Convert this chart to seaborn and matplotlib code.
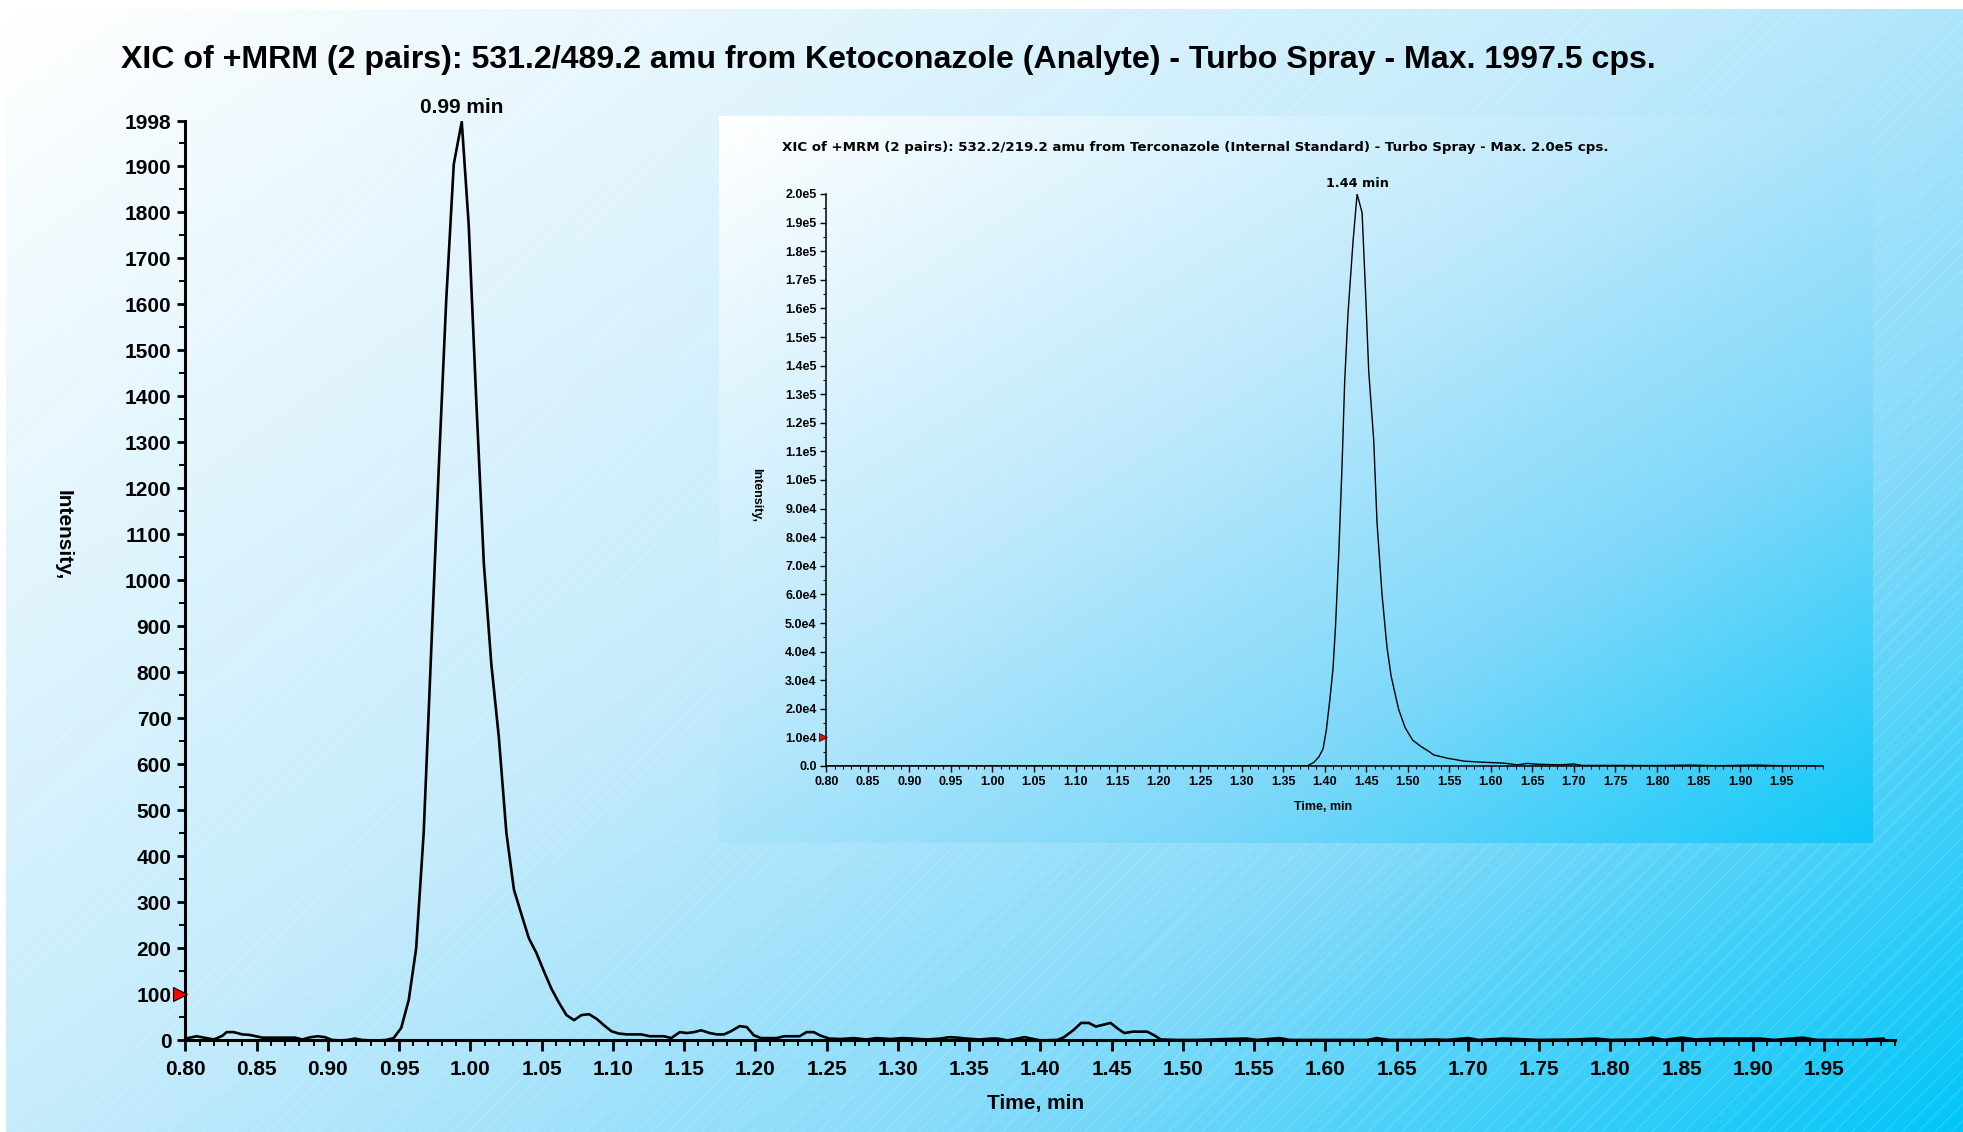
import numpy as np
import pandas as pd
import matplotlib
matplotlib.use("Agg")
import matplotlib.pyplot as plt
import seaborn as sns
from matplotlib.colors import LinearSegmentedColormap
from matplotlib.ticker import MultipleLocator, FixedLocator, FixedFormatter
from matplotlib.patches import Rectangle

# ---------------- data ----------------
keto_time = [0.800, 0.808, 0.813, 0.820, 0.826, 0.829, 0.834, 0.840, 0.845, 0.854,
             0.866, 0.877, 0.882, 0.888, 0.893, 0.898, 0.903, 0.909, 0.914, 0.919,
             0.924, 0.930, 0.936, 0.941, 0.9462, 0.9515, 0.9568, 0.9620, 0.9673, 0.9726,
             0.9778, 0.9831, 0.9884, 0.9940, 0.9989, 1.0042, 1.0095, 1.0147, 1.0200, 1.0253,
             1.0306, 1.0358, 1.0411, 1.0464, 1.0517, 1.0570, 1.0622, 1.0675, 1.0728, 1.0780,
             1.0833, 1.0886, 1.0938, 1.0990, 1.104, 1.110, 1.115, 1.120, 1.126, 1.131,
             1.136, 1.141, 1.147, 1.152, 1.157, 1.162, 1.168, 1.173, 1.178, 1.183,
             1.189, 1.194, 1.199, 1.204, 1.210, 1.215, 1.220, 1.225, 1.231, 1.236,
             1.241, 1.246, 1.252, 1.260, 1.269, 1.278, 1.285, 1.295, 1.303, 1.310,
             1.320, 1.330, 1.336, 1.342, 1.348, 1.357, 1.366, 1.370, 1.377, 1.389,
             1.400, 1.412, 1.4166, 1.4235, 1.4286, 1.434, 1.439, 1.444, 1.4493, 1.4546,
             1.459, 1.465, 1.475, 1.480, 1.4845, 1.495, 1.510, 1.530, 1.545, 1.552,
             1.568, 1.575, 1.600, 1.630, 1.636, 1.645, 1.665, 1.677, 1.685, 1.700,
             1.708, 1.725, 1.735, 1.750, 1.775, 1.790, 1.800, 1.820, 1.830, 1.838,
             1.850, 1.860, 1.875, 1.890, 1.905, 1.915, 1.935, 1.945, 1.975, 1.992]
keto_intensity = [4, 9, 6, 2, 10, 18, 18, 13, 12, 6,
                  6, 6, 2, 7, 9, 7, 1, 0, 1, 4,
                  1, 0, 0, 1, 5, 27, 88, 200, 452, 847,
                  1240, 1609, 1905, 1997.5, 1772, 1390, 1037, 820, 660, 452,
                  328, 275, 222, 190, 150, 112, 82, 55, 44, 55,
                  57, 47, 33, 20, 15, 13, 13, 13, 9, 9,
                  9, 5, 18, 16, 18, 22, 16, 13, 13, 20,
                  31, 29, 11, 5, 5, 5, 9, 9, 9, 18,
                  18, 10, 4, 3, 5, 2, 5, 3, 5, 4,
                  2, 4, 7, 6, 4, 2, 4, 4, 0, 7,
                  0, 1, 7, 23, 38, 38, 30, 34, 38, 25,
                  16, 19, 19, 11, 2, 1, 1, 3, 4, 1,
                  5, 1, 1, 1, 5, 1, 1, 2, 1, 5,
                  1, 4, 3, 1, 2, 4, 1, 2, 6, 1,
                  6, 2, 4, 4, 4, 1, 6, 1, 1, 4]

terc_time = [0.800, 1.000, 1.200, 1.379, 1.387, 1.393, 1.398, 1.402, 1.406, 1.410,
             1.413, 1.417, 1.421, 1.424, 1.428, 1.434, 1.439, 1.445, 1.449, 1.453,
             1.459, 1.463, 1.469, 1.475, 1.480, 1.489, 1.497, 1.506, 1.516, 1.526,
             1.531, 1.548, 1.568, 1.592, 1.616, 1.632, 1.644, 1.656, 1.684, 1.700,
             1.710, 1.750, 1.800, 1.840, 1.870, 1.920, 1.950, 1.990]
terc_intensity = [0, 0, 0, 0, 1300, 3200, 6000, 12600, 22700, 34000,
                  48700, 74700, 106000, 134000, 158000, 183000, 200000, 193500, 167000, 138000,
                  114000, 85000, 60000, 41500, 31400, 19800, 13300, 9000, 6800, 5000,
                  3900, 2700, 1700, 1300, 1000, 400, 900, 600, 400, 700,
                  200, 200, 150, 300, 100, 300, 100, 100]

main_xticks = [0.80, 0.85, 0.90, 0.95, 1.00, 1.05, 1.10, 1.15, 1.20, 1.25, 1.30, 1.35,
               1.40, 1.45, 1.50, 1.55, 1.60, 1.65, 1.70, 1.75, 1.80, 1.85, 1.90, 1.95]
main_yticks = [0, 100, 200, 300, 400, 500, 600, 700, 800, 900, 1000, 1100, 1200, 1300,
               1400, 1500, 1600, 1700, 1800, 1900, 1998]
inset_yticks = [0, 1e4, 2e4, 3e4, 4e4, 5e4, 6e4, 7e4, 8e4, 9e4, 1e5, 1.1e5, 1.2e5, 1.3e5,
                1.4e5, 1.5e5, 1.6e5, 1.7e5, 1.8e5, 1.9e5, 2e5]
inset_ylabels = ["0.0", "1.0e4", "2.0e4", "3.0e4", "4.0e4", "5.0e4", "6.0e4", "7.0e4",
                 "8.0e4", "9.0e4", "1.0e5", "1.1e5", "1.2e5", "1.3e5", "1.4e5", "1.5e5",
                 "1.6e5", "1.7e5", "1.8e5", "1.9e5", "2.0e5"]

main_title = ("XIC of +MRM (2 pairs): 531.2/489.2 amu from Ketoconazole (Analyte) - "
              "Turbo Spray - Max. 1997.5 cps.")
inset_title = ("XIC of +MRM (2 pairs): 532.2/219.2 amu from Terconazole (Internal Standard) - "
               "Turbo Spray - Max. 2.0e5 cps.")

# ---------------- style ----------------
sns.set_style("ticks")
plt.rcParams['font.family'] = ['Liberation Sans', 'DejaVu Sans']
plt.rcParams['font.weight'] = 'bold'
plt.rcParams['text.color'] = 'black'
plt.rcParams['hatch.linewidth'] = 0.6

W, H = 1963, 1132
fig = plt.figure(figsize=(W / 100, H / 100), dpi=100)
fig.patch.set_facecolor('white')

# background gradient
cmap_bg = LinearSegmentedColormap.from_list(
    'bg', [(0, '#ffffff'), (0.45, '#c6ecfc'), (0.72, '#84dafa'), (1, '#02c6f8')])
bg = fig.add_axes([6 / W, 0, 1 - 6 / W, 1 - 9 / H])
yy, xx = np.mgrid[0:1:300j, 0:1:500j]
bg.imshow(xx * 0.55 + yy * 0.45, cmap=cmap_bg, aspect='auto', extent=[0, 1, 1, 0],
          vmin=0, vmax=1, interpolation='bilinear')
bg.add_patch(Rectangle((0, 0), 1, 1, transform=bg.transAxes, facecolor='none',
                       edgecolor=(1, 1, 1, 0.22), hatch='//', lw=0))
bg.set_xlim(0, 1); bg.set_ylim(1, 0)
bg.axis('off')

# inset background box
ib = fig.add_axes([719 / W, 1 - 843 / H, 1154 / W, 727 / H])
cmap_in = LinearSegmentedColormap.from_list(
    'in', [(0, '#ffffff'), (0.4, '#c0eafc'), (0.7, '#7ed8fa'), (1, '#10c8f8')])
ib.imshow(xx * 0.5 + yy * 0.5, cmap=cmap_in, aspect='auto', extent=[0, 1, 1, 0],
          vmin=0, vmax=1, interpolation='bilinear')
ib.axis('off')

# ---------------- main chart ----------------
keto = pd.DataFrame({'time': keto_time, 'intensity': keto_intensity})
ax = fig.add_axes([185.3 / W, 1 - 1040.4 / H, 1710 / W, 919 / H])
ax.set_facecolor('none')
sns.lineplot(data=keto, x='time', y='intensity', ax=ax, color='black', lw=1.9,
             estimator=None, sort=False)
ax.set_xlim(0.8, 2.0)
ax.set_ylim(0, 1998)
for s in ['top', 'right']:
    ax.spines[s].set_visible(False)
for s in ['left', 'bottom']:
    ax.spines[s].set_linewidth(2.2)
    ax.spines[s].set_color('black')
ax.xaxis.set_major_locator(FixedLocator(main_xticks))
ax.xaxis.set_major_formatter(FixedFormatter([f"{v:.2f}" for v in main_xticks]))
ax.xaxis.set_minor_locator(MultipleLocator(0.01))
ax.yaxis.set_major_locator(FixedLocator(main_yticks))
ax.yaxis.set_major_formatter(FixedFormatter([str(v) for v in main_yticks]))
ax.yaxis.set_minor_locator(MultipleLocator(50))
ax.tick_params(axis='both', which='major', direction='out', width=2, labelsize=15, colors='black')
ax.tick_params(axis='x', which='major', length=8, pad=6)
ax.tick_params(axis='y', which='major', length=6, pad=4)
ax.tick_params(axis='both', which='minor', direction='out', width=1.4, length=4, colors='black')
for lab in ax.get_xticklabels() + ax.get_yticklabels():
    lab.set_fontweight('bold')
ax.set_xlabel(''); ax.set_ylabel('')
ax.plot([-0.003], [100], marker='>', color='red', mec='black', mew=0.8, ms=10,
        transform=ax.get_yaxis_transform(), clip_on=False, zorder=5)
ax.annotate('0.99 min', xy=(0.9940, 1997.5), xytext=(0, 3), textcoords='offset points',
            ha='center', va='bottom', fontsize=15, fontweight='bold', annotation_clip=False)

fig.text(121 / W, 1 - 60 / H, main_title, ha='left', va='center', fontsize=23.1, fontweight='bold')
fig.text(1036 / W, 1 - 1104 / H, 'Time, min', ha='center', va='center', fontsize=15, fontweight='bold')
fig.text(63 / W, 1 - 535 / H, 'Intensity,', ha='center', va='center', rotation=270,
         fontsize=15, fontweight='bold')

# ---------------- inset chart ----------------
terc = pd.DataFrame({'time': terc_time, 'intensity': terc_intensity})
ia = fig.add_axes([826.3 / W, 1 - 766 / H, 996.8 / W, 572 / H])
ia.set_facecolor('none')
sns.lineplot(data=terc, x='time', y='intensity', ax=ia, color='black', lw=1.0,
             estimator=None, sort=False)
ia.set_xlim(0.8, 2.0)
ia.set_ylim(0, 2e5)
for s in ['top', 'right']:
    ia.spines[s].set_visible(False)
for s in ['left', 'bottom']:
    ia.spines[s].set_linewidth(1.1)
    ia.spines[s].set_color('black')
ia.xaxis.set_major_locator(FixedLocator(main_xticks))
ia.xaxis.set_major_formatter(FixedFormatter([f"{v:.2f}" for v in main_xticks]))
ia.xaxis.set_minor_locator(MultipleLocator(0.01))
ia.yaxis.set_major_locator(FixedLocator(inset_yticks))
ia.yaxis.set_major_formatter(FixedFormatter(inset_ylabels))
ia.yaxis.set_minor_locator(MultipleLocator(5e3))
ia.tick_params(axis='both', which='major', direction='out', width=1, length=4, labelsize=9,
               pad=3, colors='black')
ia.tick_params(axis='both', which='minor', direction='out', width=0.8, length=2.5, colors='black')
for lab in ia.get_xticklabels() + ia.get_yticklabels():
    lab.set_fontweight('bold')
ia.set_xlabel(''); ia.set_ylabel('')
ia.plot([-0.003], [1e4], marker='>', color='red', mec='black', mew=0.5, ms=6,
        transform=ia.get_yaxis_transform(), clip_on=False, zorder=5)
ia.annotate('1.44 min', xy=(1.439, 2e5), xytext=(0, 3), textcoords='offset points',
            ha='center', va='bottom', fontsize=9.2, fontweight='bold', annotation_clip=False,
            family=['DejaVu Sans'])

fig.text(782 / W, 1 - 148 / H, inset_title, ha='left', va='center', fontsize=9.6,
         fontweight='bold', family=['DejaVu Sans'])
fig.text(1323 / W, 1 - 807 / H, 'Time, min', ha='center', va='center', fontsize=9, fontweight='bold')
fig.text(756 / W, 1 - 495 / H, 'Intensity,', ha='center', va='center', rotation=270,
         fontsize=9, fontweight='bold')

fig.savefig('out.png', dpi=100, facecolor=fig.get_facecolor())
